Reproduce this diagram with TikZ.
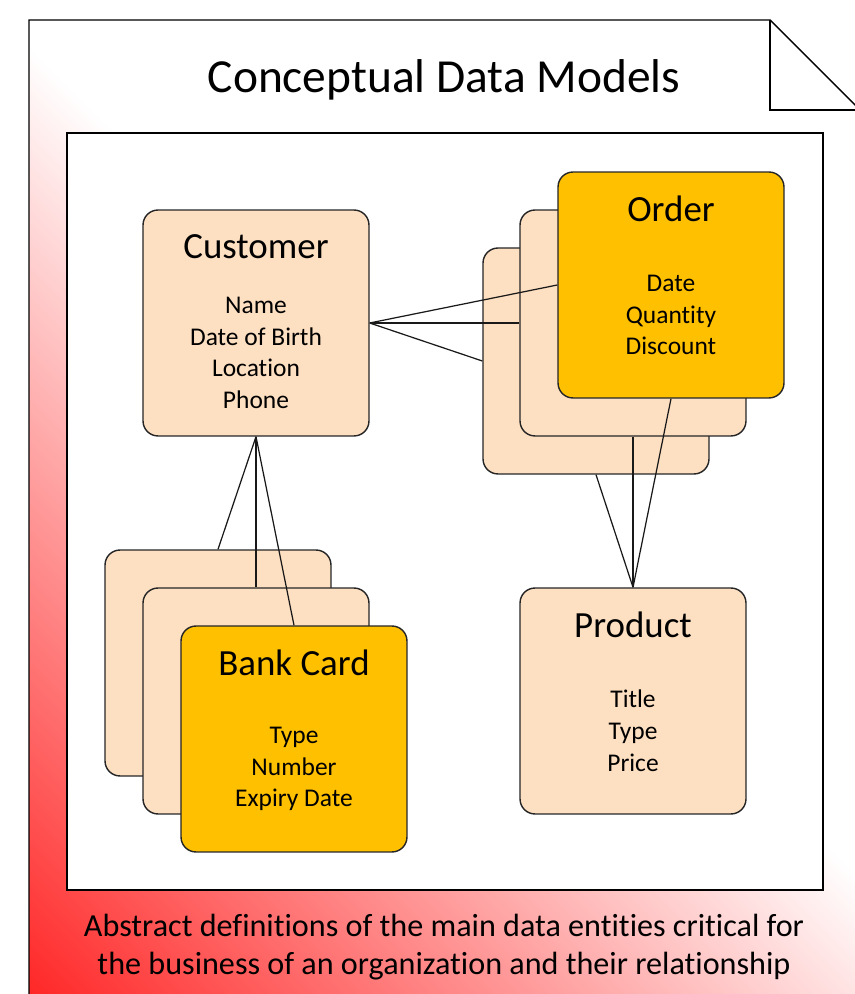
\documentclass[tikz,border=0pt]{standalone}
\usepackage{fontspec}
\setmainfont{Carlito}[Ligatures=NoCommon]
\usepackage{tikz}
\definecolor{peach}{RGB}{253,223,193}
\definecolor{amber}{RGB}{255,192,0}
\pgfdeclareverticalshading{pagefade}{100bp}{color(0bp)=(red); color(8bp)=(red); color(52bp)=(white); color(100bp)=(white)}
\tikzset{entity/.style={draw=black!85, line width=0.8pt, rounded corners=0.3cm,
           minimum width=4.52cm, minimum height=4.52cm, inner sep=0pt},
         backcard/.style={entity, fill=peach},
         frontcard/.style={entity, fill=amber},
         enttitle/.style={font=\fontsize{21}{25}\selectfont, inner sep=0pt},
         attrs/.style={font=\fontsize{14.5}{18.1}\selectfont, align=center, inner sep=0pt},
         link/.style={draw=black!90, line width=0.7pt}}

\begin{document}
\begin{tikzpicture}[x=0.02cm, y=0.02cm]
\useasboundingbox (0,0) rectangle (855,994);
\clip (0,0) rectangle (855,994);
\shade[shading=pagefade, shading angle=-45] (29,974) -- (770,974) -- (860,884) -- (860,-10) -- (29,-10) -- cycle;
\draw[line width=0.8pt] (29,-10) -- (29,974) -- (770,974) -- (860,884);
\draw[line width=0.8pt] (770,974) -- (770,884) -- (860,884);
\node[font=\fontsize{27}{32}\selectfont, inner sep=0pt] (title) at (444,914) {Conceptual Data Models};
\draw[line width=0.8pt, fill=white] (67,861) rectangle (823,104);
\node[font=\fontsize{18.3}{22}\selectfont, align=center, inner sep=0pt] (caption) at (444,47)
  {Abstract definitions of the main data entities critical for\\the business of an organization and their relationship};

\node[backcard] (cust) at (256,671) {};
\node[enttitle] (custT) at ([yshift=-0.75cm]cust.north) {Customer};
\node[attrs] (custA) at ([yshift=-0.6cm]cust.center) {Name\\Date of Birth\\Location\\Phone};

\node[backcard] (ordB) at (596,633) {};
\node[backcard] (ordM) at (633,671) {};
\node[frontcard] (ordF) at (671,709) {};
\node[enttitle] (ordT) at ([yshift=-0.75cm]ordF.north) {Order};
\node[attrs] (ordA) at ([yshift=-0.6cm]ordF.center) {Date\\Quantity\\Discount};

\node[backcard] (bankB) at (218,331) {};
\node[backcard] (bankM) at (256,293) {};
\node[frontcard] (bankF) at (294,255) {};
\node[enttitle] (bankT) at ([yshift=-0.75cm]bankF.north) {Bank Card};
\node[attrs] (bankA) at ([yshift=-0.6cm]bankF.center) {Type\\Number\\Expiry Date};

\node[backcard] (prod) at (633,293) {};
\node[enttitle] (prodT) at ([yshift=-0.75cm]prod.north) {Product};
\node[attrs] (prodA) at ([yshift=-0.6cm]prod.center) {Title\\Type\\Price};

\draw[link] (cust.east) -- (ordF.west);
\draw[link] (cust.east) -- (ordM.west);
\draw[link] (cust.east) -- (ordB.west);
\draw[link] (cust.south) -- (bankB.north);
\draw[link] (cust.south) -- (bankM.north);
\draw[link] (cust.south) -- (bankF.north);
\draw[link] (prod.north) -- (ordB.south);
\draw[link] (prod.north) -- (ordM.south);
\draw[link] (prod.north) -- (ordF.south);
\end{tikzpicture}
\end{document}
